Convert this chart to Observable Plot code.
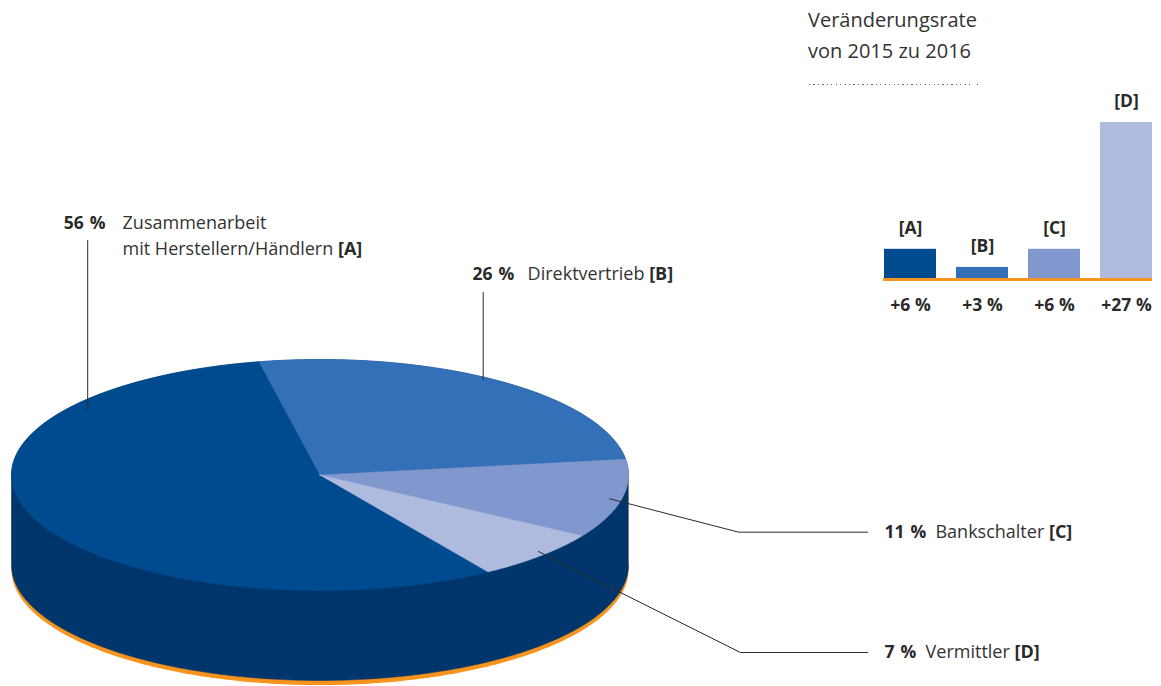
<!DOCTYPE html>
<html>
<head>
<meta charset="utf-8">
<script src="https://cdn.jsdelivr.net/npm/d3@7"></script>
<script src="https://cdn.jsdelivr.net/npm/@observablehq/plot@0.6"></script>
<style>
  body { margin: 0; background: #fff; }
  #chart { position: relative; width: 1161px; height: 686px; overflow: hidden; font-family: "Open Sans", sans-serif; background: #fff; }
  #chart > svg, #chart > div { position: absolute; }
  #header { left: 808px; top: 5px; font-size: 20px; line-height: 30.5px; color: #333; white-space: nowrap; }
  #dots { left: 809px; top: 84px; width: 165px; height: 1.2px;
          background: repeating-linear-gradient(90deg, #666 0 1.2px, transparent 1.2px 4.45px); }
  #dotEnd { left: 976.5px; top: 83.8px; width: 1.6px; height: 1.6px; background: #555; }
</style>
</head>
<body>
<div id="chart"></div>
<script>
// ---------- data ----------
const categories = ["A", "B", "C", "D"];
const shares = [56, 26, 11, 7];
const pctLabels = ["56 %", "26 %", "11 %", "7 %"];
const nameLines = [
  ["Zusammenarbeit", "mit Herstellern/Händlern [A]"],
  ["Direktvertrieb [B]"],
  ["Bankschalter [C]"],
  ["Vermittler [D]"]
];
const changes = [6, 3, 6, 27];
const changeLabels = ["+6 %", "+3 %", "+6 %", "+27 %"];
const titleLines = ["Veränderungsrate", "von 2015 zu 2016"];

// ---------- styles / layout ----------
const colors = ["#004a8f", "#3370b7", "#8198ce", "#aebbdf"];
const sideColor = "#00366b";
const orange = "#f7941d";
const textColor = "#333";
const startDeg = 147;        // pie start angle (clockwise from 12 o'clock)
const depth = 0.779;         // cylinder depth in ellipse-radius units
const rimOffset = 0.04;      // orange rim shift
const lineStep = 0.225;      // line spacing of multi-line labels (units)
// annotation layout in pie units (x: -1..1 = ellipse width, y: -1..1 = ellipse height)
const layout = {
  A: {leader: [[-0.753, -0.558], [-0.753, -2.03]], pctX: -0.831, nameX: -0.640, y: -2.178},
  B: {leader: [[0.529, -0.827], [0.529, -1.58]], pctX: 0.494, nameX: 0.673, y: -1.737},
  C: {leader: [[0.939, 0.206], [1.357, 0.495], [1.775, 0.495]], pctX: 1.830, nameX: 1.995, y: 0.495},
  D: {leader: [[0.708, 0.662], [1.363, 1.537], [1.775, 1.537]], pctX: 1.830, nameX: 1.963, y: 1.537}
};

// ---------- pie geometry ----------
const rad = Math.PI / 180;
const pieGen = d3.pie().sort(null).value(d => d.share)
  .startAngle(startDeg * rad).endAngle(startDeg * rad + 2 * Math.PI);
const slices = pieGen(categories.map((k, i) => ({key: k, share: shares[i]})));
const pt = (a, r = 1, off = 0) => ({px: r * Math.sin(a), py: -r * Math.cos(a) + off});

function slicePoints(s) {
  const n = Math.max(2, Math.ceil((s.endAngle - s.startAngle) / rad));
  const pts = [{px: 0, py: 0}];
  for (let i = 0; i <= n; i++) pts.push(pt(s.startAngle + (s.endAngle - s.startAngle) * i / n));
  pts.push({px: 0, py: 0});
  return pts;
}
function silhouette(base) {
  const pts = [];
  for (let d = 90; d <= 270; d++) pts.push(pt(d * rad, 1, base + depth));
  for (let d = 270; d <= 450; d++) pts.push(pt(d * rad, 1, base));
  return pts;
}

const leaderPts = categories.flatMap(k => layout[k].leader.map(([px, py]) => ({key: k, px, py})));
const pctRows = categories.map((k, i) => ({px: layout[k].pctX, py: layout[k].y, text: pctLabels[i]}));
const nameRows = categories.flatMap((k, i) =>
  nameLines[i].map((t, j) => ({px: layout[k].nameX, py: layout[k].y + j * lineStep, text: t})));

const piePlot = Plot.plot({
  width: 1161, height: 686, margin: 0,
  x: {axis: null, domain: [-1, 1], range: [11, 628]},
  y: {axis: null, domain: [-1, 1], range: [359, 590]},
  style: {fontFamily: "Open Sans", background: "transparent", color: textColor},
  marks: [
    Plot.line(silhouette(rimOffset), {x: "px", y: "py", fill: orange, stroke: "none"}),
    Plot.line(silhouette(0), {x: "px", y: "py", fill: sideColor, stroke: sideColor, strokeWidth: 0.5}),
    ...slices.map((s, i) => Plot.line(slicePoints(s), {x: "px", y: "py", fill: colors[i], stroke: colors[i], strokeWidth: 0.6})),
    Plot.line(leaderPts, {x: "px", y: "py", z: "key", stroke: "#2a2a2a", strokeWidth: 1}),
    Plot.text(pctRows, {x: "px", y: "py", text: "text", textAnchor: "start", lineAnchor: "middle",
      fontSize: 17.5, fontWeight: "bold", fill: "#2a2a2a"}),
    Plot.text(nameRows, {x: "px", y: "py", text: "text", textAnchor: "start", lineAnchor: "middle",
      fontSize: 18, fill: textColor})
  ]
});
// bold category keys "[A]" inside the name labels
d3.select(piePlot).selectAll("text").each(function () {
  const m = this.textContent.match(/^(.*?)\s*(\[[A-D]\])$/);
  if (m) {
    this.textContent = "";
    d3.select(this).append("tspan").text(m[1] + " ");
    d3.select(this).append("tspan").attr("font-weight", "bold").attr("fill", "#2a2a2a").text(m[2]);
  }
  if (/^\d+ %$/.test(this.textContent)) this.setAttribute("word-spacing", "1.5");
});
piePlot.style.left = "0px";
piePlot.style.top = "0px";

// ---------- bar chart ----------
const bars = categories.map((k, i) => ({key: k, value: changes[i], label: changeLabels[i]}));
const barPlot = Plot.plot({
  width: 361, height: 320,
  marginLeft: 83, marginRight: 9, marginTop: 122, marginBottom: 41,
  x: {axis: null, domain: categories, paddingInner: 0.28, paddingOuter: 0},
  y: {axis: null, domain: [1, 27]},
  color: {domain: categories, range: colors},
  style: {fontFamily: "Open Sans", background: "transparent", color: textColor},
  marks: [
    Plot.barY(bars, {x: "key", y1: 1, y2: "value", fill: "key"}),
    Plot.ruleY([1], {stroke: orange, strokeWidth: 3}),
    Plot.text(bars, {x: "key", y: "value", text: d => `[${d.key}]`, dy: -15.5, lineAnchor: "bottom",
      fontSize: 17.5, fontWeight: "bold", fill: "#2a2a2a"}),
    Plot.text(bars, {x: "key", frameAnchor: "bottom", text: "label", dy: 31, lineAnchor: "bottom",
      fontSize: 17.5, fontWeight: "bold", fill: "#2a2a2a"})
  ]
});
barPlot.style.left = "800px";
barPlot.style.top = "0px";

// ---------- assemble ----------
const chart = document.getElementById("chart");
chart.appendChild(piePlot);
chart.appendChild(barPlot);
const header = document.createElement("div");
header.id = "header";
header.innerHTML = titleLines.join("<br>");
chart.appendChild(header);
const dots = document.createElement("div");
dots.id = "dots";
chart.appendChild(dots);
const dotEnd = document.createElement("div");
dotEnd.id = "dotEnd";
chart.appendChild(dotEnd);
</script>
</body>
</html>
